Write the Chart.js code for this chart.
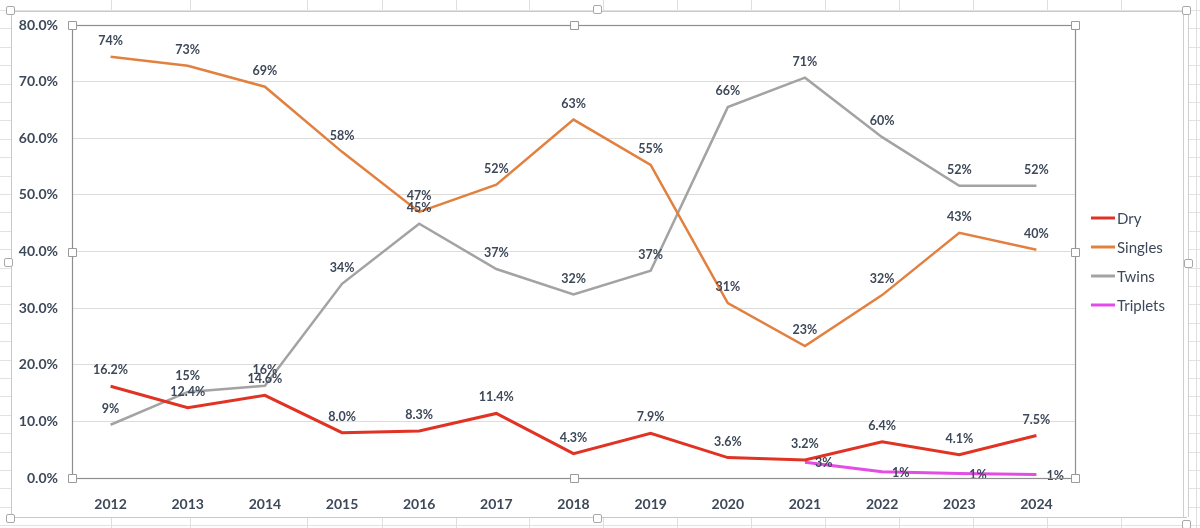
<!DOCTYPE html>
<html>
<head>
<meta charset="utf-8">
<script src="https://cdn.jsdelivr.net/npm/chart.js@4.4.1/dist/chart.umd.min.js"></script>
<style>
  html, body { margin: 0; padding: 0; width: 1200px; height: 528px; overflow: hidden; background: #ffffff; }
  #sheet { position: absolute; left: 0; top: 0; width: 1200px; height: 528px; }
  .vl { position: absolute; top: 0; width: 1px; height: 528px; background: #dedede; }
  .hl { position: absolute; left: 0; height: 1px; width: 1200px; background: #e2e2e2; }
  #box { position: absolute; left: 11px; top: 11px; width: 1174px; height: 505px; background: #fff; border: 1px solid #c9c9c9; }
  #box2 { position: absolute; left: 1183px; top: 12px; width: 4px; height: 505px; border-left: 1px solid #cfcfcf; border-right: 1px solid #cfcfcf; background: #fff; }
  .h { position: absolute; width: 7px; height: 7px; background: #fff; border: 1px solid #a8a8a8; border-radius: 2px; }
  #wrap { position: absolute; left: 0; top: 0; width: 1200px; height: 528px; }
</style>
</head>
<body>
<div id="sheet"></div>
<div id="box"></div>
<div id="box2"></div>
<div id="wrap"><canvas id="c" width="1200" height="528"></canvas></div>
<script>
// ---- data ----
const years = ['2012','2013','2014','2015','2016','2017','2018','2019','2020','2021','2022','2023','2024'];
const dry      = [16.2, 12.4, 14.6, 8.0, 8.3, 11.4, 4.3, 7.9, 3.6, 3.2, 6.4, 4.1, 7.5];
const singles  = [74.4, 72.8, 69.1, 57.6, 47.0, 51.8, 63.3, 55.3, 30.9, 23.3, 32.3, 43.3, 40.3];
const twins    = [9.4, 15.2, 16.3, 34.3, 44.9, 36.9, 32.4, 36.6, 65.5, 70.7, 60.2, 51.6, 51.6];
const triplets = [null, null, null, null, null, null, null, null, null, 2.8, 1.1, 0.8, 0.6];
const seriesNames = ['Dry', 'Singles', 'Twins', 'Triplets'];
const yTicks = [0, 10, 20, 30, 40, 50, 60, 70, 80];

// ---- spreadsheet background ----
const sheet = document.getElementById('sheet');
[111,190,307,382,456,529,603,677,751,825,899,973,1047,1121,1196].forEach(x => {
  const d = document.createElement('div'); d.className = 'vl'; d.style.left = x + 'px'; sheet.appendChild(d);
});
for (let y = 10; y < 528; y += 18.4) {
  const d = document.createElement('div'); d.className = 'hl'; d.style.top = Math.round(y) + 'px'; sheet.appendChild(d);
}
[[10,10],[597,9],[1186,10],[8,262],[1188,263],[10,518],[597,518],[1186,524]].forEach(p => {
  const d = document.createElement('div'); d.className = 'h';
  d.style.left = (p[0] - 4) + 'px'; d.style.top = (p[1] - 4) + 'px';
  document.body.appendChild(d);
});

const textColor = '#3d4859';
const FONT = 'Lato, "Open Sans", "Noto Sans", sans-serif';
const colors = ['#E03324', '#E2803F', '#A3A3A3', '#E54BE5'];
const widths = [3, 2.5, 2.5, 3];

const labelPlugin = {
  id: 'dlabels',
  afterDatasetsDraw(chart) {
    const ctx = chart.ctx;
    ctx.save();
    ctx.font = 'bold 12.5px ' + FONT;
    ctx.fillStyle = textColor;
    chart.data.datasets.forEach((ds, i) => {
      const meta = chart.getDatasetMeta(i);
      meta.data.forEach((pt, j) => {
        const v = ds.data[j];
        if (v === null || v === undefined) return;
        const txt = (i === 0 ? v.toFixed(1) : Math.round(v).toString()) + '%';
        if (i === 3) {
          ctx.textAlign = 'left'; ctx.textBaseline = 'middle';
          ctx.fillText(txt, pt.x + 10, pt.y + 1);
        } else {
          ctx.textAlign = 'center'; ctx.textBaseline = 'middle';
          ctx.fillText(txt, pt.x, pt.y - 16);
        }
      });
    });
    ctx.restore();
  }
};

const framePlugin = {
  id: 'frame',
  afterDraw(chart) {
    const ctx = chart.ctx, a = chart.chartArea;
    ctx.save();
    ctx.strokeStyle = '#8e8e8e'; ctx.lineWidth = 1.2;
    ctx.strokeRect(a.left + 0.5, a.top + 0.5, a.right - a.left, a.bottom - a.top);
    const mx = (a.left + a.right) / 2, my = (a.top + a.bottom) / 2;
    [[a.left,a.top],[mx,a.top],[a.right,a.top],[a.left,my],[a.right,my],[a.left,a.bottom],[mx,a.bottom],[a.right,a.bottom]].forEach(p => {
      ctx.fillStyle = '#fff'; ctx.strokeStyle = '#9a9a9a'; ctx.lineWidth = 1;
      ctx.beginPath();
      ctx.rect(Math.round(p[0]) - 4 + 0.5, Math.round(p[1]) - 4 + 0.5, 8, 8);
      ctx.fill(); ctx.stroke();
    });
    // legend
    ctx.font = '15px ' + FONT;
    ctx.textAlign = 'left'; ctx.textBaseline = 'middle';
    chart.data.datasets.forEach((ds, i) => {
      const y = 218 + i * 29;
      ctx.strokeStyle = ds.borderColor; ctx.lineWidth = 3;
      ctx.beginPath(); ctx.moveTo(1091, y); ctx.lineTo(1115, y); ctx.stroke();
      ctx.fillStyle = textColor;
      ctx.fillText(ds.label, 1117, y + 1);
    });
    ctx.restore();
  }
};

new Chart(document.getElementById('c'), {
  type: 'line',
  data: {
    labels: years,
    datasets: [dry, singles, twins, triplets].map((d, i) => ({
      label: seriesNames[i],
      data: d,
      borderColor: colors[i],
      backgroundColor: colors[i],
      borderWidth: widths[i],
      pointRadius: 0,
      tension: 0,
      fill: false
    }))
  },
  options: {
    responsive: false,
    animation: false,
    devicePixelRatio: 1,
    layout: { padding: { left: 10, right: 125, top: 25, bottom: 10 } },
    plugins: { legend: { display: false }, tooltip: { enabled: false } },
    scales: {
      x: {
        offset: true,
        grid: { display: false },
        border: { display: false },
        ticks: { color: textColor, font: { family: FONT, size: 14, weight: 'bold' }, padding: 10, maxRotation: 0 },
        afterFit(s) { s.height = 40; }
      },
      y: {
        min: 0, max: 80,
        afterBuildTicks(s) { s.ticks = yTicks.map(v => ({ value: v })); },
        grid: { color: '#dcdcdc', drawTicks: false, lineWidth: 1 },
        border: { display: false },
        ticks: { color: textColor, font: { family: FONT, size: 14, weight: 'bold' }, padding: 14,
                 callback: v => v.toFixed(1) + '%' },
        afterFit(s) { s.width = 62; }
      }
    }
  },
  plugins: [labelPlugin, framePlugin]
});
</script>
</body>
</html>
